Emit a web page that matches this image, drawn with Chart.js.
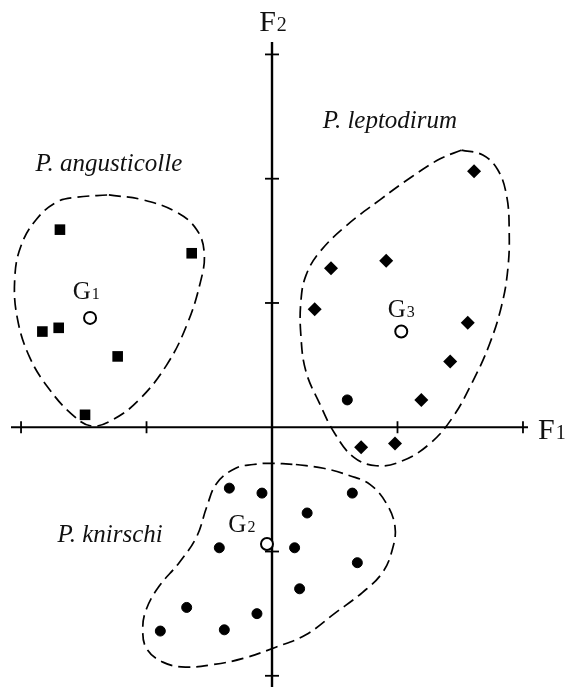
<!DOCTYPE html>
<html>
<head>
<meta charset="utf-8">
<script src="https://cdn.jsdelivr.net/npm/chart.js@4.4.0/dist/chart.umd.min.js"></script>
<style>
    html, body { margin: 0; padding: 0; background: #fff; }
    .wrapper { position: relative; width: 568px; height: 690px; }
</style>
</head>
<body>
<div class="wrapper"><canvas id="scores"></canvas></div>
<script>
// individuals on the first two discriminant axes
const angusticolle = [
    { x: -1.69, y: 1.59 }, { x: -0.64, y: 1.40 }, { x: -1.83, y: 0.77 },
    { x: -1.70, y: 0.80 }, { x: -1.23, y: 0.57 }, { x: -1.49, y: 0.10 }
];
const leptodirum = [
    { x: 1.61, y: 2.06 }, { x: 0.47, y: 1.28 }, { x: 0.91, y: 1.34 },
    { x: 0.34, y: 0.95 }, { x: 1.56, y: 0.84 }, { x: 1.42, y: 0.53 },
    { x: 1.19, y: 0.22 }, { x: 0.71, y: -0.16 }, { x: 0.98, y: -0.13 }
];
const knirschi = [
    { x: 0.60, y: 0.22 }, { x: -0.34, y: -0.49 }, { x: -0.08, y: -0.53 },
    { x: 0.64, y: -0.53 }, { x: 0.28, y: -0.69 }, { x: -0.42, y: -0.97 },
    { x: 0.18, y: -0.97 }, { x: 0.68, y: -1.09 }, { x: 0.22, y: -1.30 },
    { x: -0.68, y: -1.45 }, { x: -0.12, y: -1.50 }, { x: -0.89, y: -1.64 },
    { x: -0.38, y: -1.63 }
];
// group centroids G1, G2, G3
const centroids = [{ x: -1.45, y: 0.88 }, { x: -0.04, y: -0.94 }, { x: 1.03, y: 0.77 }];

// dashed envelopes drawn round each group
const hull1 = [
    [-1.30, 1.87], [-1.03, 1.83], [-0.76, 1.73], [-0.60, 1.59], [-0.54, 1.40],
    [-0.57, 1.17], [-0.68, 0.82], [-0.84, 0.50], [-1.06, 0.22], [-1.27, 0.06],
    [-1.44, 0.01], [-1.59, 0.10], [-1.77, 0.30], [-1.93, 0.56], [-2.03, 0.88],
    [-2.05, 1.20], [-2.00, 1.46], [-1.88, 1.67], [-1.72, 1.81], [-1.56, 1.85],
    [-1.30, 1.87]
];
const hull2 = [
    [0.19, -0.30], [0.41, -0.33], [0.62, -0.39], [0.78, -0.46], [0.91, -0.61],
    [0.98, -0.80], [0.96, -0.98], [0.88, -1.17], [0.72, -1.33], [0.51, -1.49],
    [0.27, -1.67], [0.03, -1.77], [-0.23, -1.86], [-0.47, -1.91], [-0.69, -1.93],
    [-0.87, -1.89], [-1.00, -1.78], [-1.03, -1.62], [-1.00, -1.46], [-0.90, -1.28],
    [-0.74, -1.09], [-0.60, -0.88], [-0.52, -0.64], [-0.44, -0.45], [-0.29, -0.33],
    [-0.15, -0.30], [-0.02, -0.29], [0.19, -0.30]
];
const hull3 = [
    [1.51, 2.23], [1.68, 2.19], [1.80, 2.07], [1.87, 1.86], [1.89, 1.59],
    [1.88, 1.28], [1.83, 0.98], [1.73, 0.66], [1.60, 0.37], [1.44, 0.08],
    [1.26, -0.13], [1.04, -0.27], [0.83, -0.31], [0.65, -0.24], [0.50, -0.05],
    [0.38, 0.19], [0.27, 0.45], [0.23, 0.74], [0.23, 1.01], [0.27, 1.22],
    [0.38, 1.41], [0.59, 1.62], [0.86, 1.83], [1.12, 2.02], [1.34, 2.16],
    [1.51, 2.23]
];

const f1Ticks = [-2, -1, 1, 2];
const f2Ticks = [-2, -1, 1, 2, 3];

const FONT = '"Liberation Serif", "Times New Roman", serif';

const toPoints = (list) => list.map(p => ({ x: p[0], y: p[1] }));

const hullDataset = (list) => ({
    data: toPoints(list),
    showLine: true,
    borderColor: '#000',
    borderWidth: 1.7,
    borderDash: [12, 6],
    tension: 0.4,
    pointRadius: 0,
    fill: false,
    clip: false,
    order: 2
});

// text written in data units: [text, sub, x, y, italic]
const labels = [
    ['P. angusticolle', '', -1.30, 2.06, true],
    ['P. leptodirum', '', 0.94, 2.41, true],
    ['P. knirschi', '', -1.29, -0.92, true],
    ['G', '1', -1.48, 1.03, false],
    ['G', '2', -0.24, -0.84, false],
    ['G', '3', 1.03, 0.89, false]
];

const drawSubText = (ctx, text, sub, cx, baseY, size, subSize, align) => {
    ctx.font = `${size}px ${FONT}`;
    const w1 = ctx.measureText(text).width;
    ctx.font = `${subSize}px ${FONT}`;
    const w2 = sub ? ctx.measureText(sub).width + 1 : 0;
    let left = align === 'left' ? cx : cx - (w1 + w2) / 2;
    ctx.textAlign = 'left';
    ctx.textBaseline = 'alphabetic';
    ctx.font = `${size}px ${FONT}`;
    ctx.fillText(text, left, baseY);
    if (sub) {
        ctx.font = `${subSize}px ${FONT}`;
        ctx.fillText(sub, left + w1 + 1, baseY);
    }
};

const axesPlugin = {
    id: 'crossAxes',
    beforeDatasetsDraw(chart) {
        const { ctx, chartArea, scales } = chart;
        const x0 = scales.x.getPixelForValue(0);
        const y0 = scales.y.getPixelForValue(0);
        ctx.save();
        ctx.strokeStyle = '#000';
        ctx.lineWidth = 2;
        ctx.beginPath();
        ctx.moveTo(chartArea.left, y0);
        ctx.lineTo(chartArea.right, y0);
        ctx.stroke();
        ctx.lineWidth = 2.4;
        ctx.beginPath();
        ctx.moveTo(x0, chartArea.top);
        ctx.lineTo(x0, chartArea.bottom + 5);
        ctx.stroke();

        ctx.lineWidth = 1.8;
        f1Ticks.forEach(v => {
            const px = scales.x.getPixelForValue(v);
            ctx.beginPath();
            ctx.moveTo(px, y0 - 6);
            ctx.lineTo(px, y0 + 6);
            ctx.stroke();
        });
        f2Ticks.forEach(v => {
            const py = scales.y.getPixelForValue(v);
            ctx.beginPath();
            ctx.moveTo(x0 - 7, py);
            ctx.lineTo(x0 + 7, py);
            ctx.stroke();
        });

        ctx.fillStyle = '#111';
        drawSubText(ctx, 'F', '1', chartArea.right + 10, y0 + 12, 30, 20, 'left');
        drawSubText(ctx, 'F', '2', x0 + 1, chartArea.top - 11, 30, 20, 'center');
        ctx.restore();
    },
    afterDatasetsDraw(chart) {
        const { ctx, scales } = chart;
        ctx.save();
        ctx.fillStyle = '#111';
        labels.forEach(([text, sub, x, y, italic]) => {
            const px = scales.x.getPixelForValue(x);
            const py = scales.y.getPixelForValue(y);
            if (italic) {
                ctx.font = `italic 25px ${FONT}`;
                ctx.textAlign = 'center';
                ctx.textBaseline = 'alphabetic';
                ctx.fillText(text, px, py);
            } else {
                drawSubText(ctx, text, sub, px, py, 25, 16, 'center');
            }
        });
        ctx.restore();
    }
};

(() => {
    const canvasEle = document.getElementById('scores');

    new Chart(canvasEle, {
        type: 'scatter',
        data: {
            datasets: [{
                data: centroids,
                pointStyle: 'circle',
                pointRadius: 6,
                pointBackgroundColor: '#fff',
                pointBorderColor: '#000',
                pointBorderWidth: 2,
                order: 0
            }, {
                data: angusticolle,
                pointStyle: 'rect',
                pointRadius: 7.5,
                pointBackgroundColor: '#000',
                pointBorderColor: '#000',
                pointBorderWidth: 0,
                order: 1
            }, {
                data: leptodirum,
                pointStyle: 'rectRot',
                pointRadius: 7,
                pointBackgroundColor: '#000',
                pointBorderColor: '#000',
                pointBorderWidth: 0,
                order: 1
            }, {
                data: knirschi,
                pointStyle: 'circle',
                pointRadius: 5,
                pointBackgroundColor: '#000',
                pointBorderColor: '#000',
                pointBorderWidth: 1,
                order: 1
            },
            hullDataset(hull1),
            hullDataset(hull2),
            hullDataset(hull3)
            ]
        },
        options: {
            responsive: true,
            maintainAspectRatio: false,
            animation: false,
            events: [],
            layout: {
                padding: { left: 11, right: 40, top: 42, bottom: 3 }
            },
            plugins: {
                legend: { display: false },
                tooltip: { enabled: false }
            },
            scales: {
                x: { type: 'linear', min: -2.08, max: 2.04, display: false },
                y: { type: 'linear', min: -2.05, max: 3.1, display: false }
            }
        },
        plugins: [axesPlugin]
    });
})();
</script>
</body>
</html>
